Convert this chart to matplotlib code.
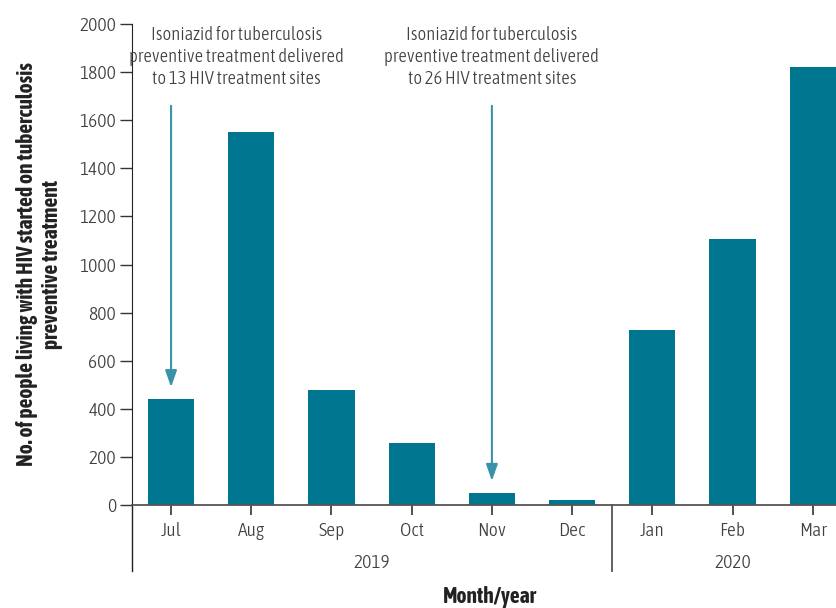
import matplotlib.pyplot as plt

months = ['Jul', 'Aug', 'Sep', 'Oct', 'Nov', 'Dec', 'Jan', 'Feb', 'Mar']
counts = [440, 1550, 478, 258, 50, 20, 727, 1106, 1820]
years = ['2019', '2020']
year_spans = [(0, 5), (6, 8)]
notes = ['Isoniazid for tuberculosis\npreventive treatment delivered\nto 13 HIV treatment sites',
         'Isoniazid for tuberculosis\npreventive treatment delivered\nto 26 HIV treatment sites']
note_month = [0, 4]
note_text_x = [0.82, 4.0]

plt.rcParams['font.family'] = ['Asap Condensed', 'DejaVu Sans']
plt.rcParams['font.weight'] = 300

bar_col = '#00758f'
arrow_col = '#3a92aa'
txt_col = '#404040'

fig = plt.figure(figsize=(8.36, 6.08), dpi=100)
ax = fig.add_axes([0.158, 0.1694, 0.842, 0.7911])

x = list(range(len(months)))
ax.bar(x, counts, width=0.575, color=bar_col, zorder=2)

ax.set_xlim(-0.486, 8.29)
ax.set_ylim(0, 2000)
ax.set_yticks(range(0, 2001, 200))
ax.set_xticks(x)
ax.set_xticklabels(months)
ax.tick_params(axis='y', length=8.5, width=1, colors='#333333', labelcolor=txt_col, labelsize=14, pad=3)
ax.tick_params(axis='x', length=7, width=1.2, colors='#333333', labelcolor=txt_col, labelsize=14, pad=5)

for s in ['top', 'right']:
    ax.spines[s].set_visible(False)
ax.spines['left'].set_color('#222222')
ax.spines['bottom'].set_color('#555555')
ax.spines['bottom'].set_linewidth(1.3)

# left spine and year separator run down past the month labels
ax.plot([-0.486, -0.486], [0, -275], color='#222222', lw=1, clip_on=False)
ax.plot([5.5, 5.5], [0, -275], color='#555555', lw=1.3, clip_on=False)

for yr, (a, b) in zip(years, year_spans):
    ax.text((a + b) / 2, -241, yr, ha='center', va='center', fontsize=14, color=txt_col)

for i in range(len(notes)):
    ax.text(note_text_x[i], 1863, notes[i], ha='center', va='center', fontsize=13.5,
            color=txt_col, linespacing=1.3)
    ax.annotate('', xy=(note_month[i], counts[note_month[i]] + 50), xytext=(note_month[i], 1660),
                arrowprops=dict(arrowstyle='-|>,head_width=0.35,head_length=1.0', color=arrow_col, lw=1.5,
                                shrinkA=0, shrinkB=0))

ax.set_ylabel('No. of people living with HIV started on tuberculosis\npreventive treatment',
              fontsize=15.5, fontweight='bold', color='#222222', labelpad=12, linespacing=1.15)
fig.text(0.586, 0.018, 'Month/year', ha='center', va='center', fontsize=15.5,
         fontweight='bold', color='#222222')

fig.savefig('out.png', dpi=100)
